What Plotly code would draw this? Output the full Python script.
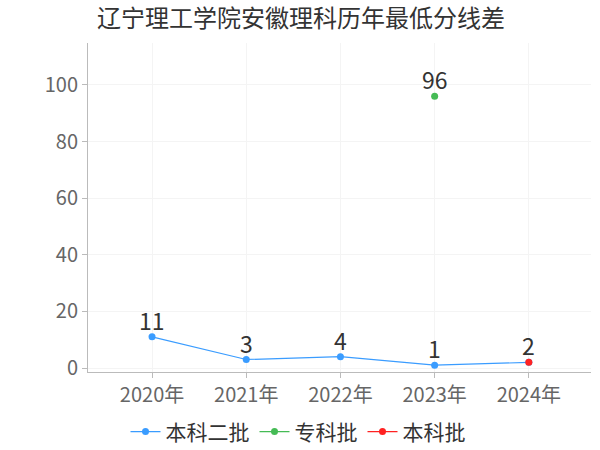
import plotly.graph_objects as go

years = ["2020年", "2021年", "2022年", "2023年", "2024年"]
benke2 = [11, 3, 4, 1, 2]
zhuanke = [None, None, None, 96, None]
benke = [None, None, None, None, 2]
title = "辽宁理工学院安徽理科历年最低分线差"

FONT = "Noto Sans CJK SC, Noto Sans, sans-serif"

series = [("本科二批", benke2, "#3a9cff"),
          ("专科批", zhuanke, "#45bb55"),
          ("本科批", benke, "#ff2222")]

fig = go.Figure()
for name, vals, color in series:
    fig.add_trace(go.Scatter(
        x=years, y=vals, name=name, mode="lines+markers",
        line=dict(color=color, width=1.2),
        marker=dict(color=color, size=7),
        connectgaps=False,
    ))

# value labels (one per category/value, skip duplicates at same spot)
seen = set()
for name, vals, color in reversed(series):
    for x, v in zip(years, vals):
        if v is None or (x, v) in seen:
            continue
        seen.add((x, v))
        fig.add_annotation(x=x, y=v, text=str(v), showarrow=False,
                           yshift=17, font=dict(size=23, color="#333333", family=FONT))

fig.update_layout(
    width=600, height=450,
    margin=dict(l=88, r=9, t=43, b=78, autoexpand=False),
    paper_bgcolor="white", plot_bgcolor="white",
    font=dict(family=FONT, color="#666666"),
    title=dict(text=title, x=97 / 600, xanchor="left", y=1 - 19 / 450, yanchor="middle",
               font=dict(size=24, color="#333333", family=FONT)),
    legend=dict(orientation="h", x=0.4175, xanchor="center", y=-0.182, yanchor="middle",
                font=dict(size=21, color="#333333", family=FONT),
                itemwidth=30, tracegroupgap=0),
    showlegend=True,
)
fig.update_xaxes(
    type="category", range=[-0.68, 4.66], automargin=False,
    showline=True, linecolor="#bbbbbb", linewidth=1,
    showgrid=True, gridcolor="#f4f4f4",
    ticks="outside", ticklen=5, tickcolor="#bbbbbb",
    tickfont=dict(size=20, color="#666666", family=FONT),
)
fig.update_yaxes(
    range=[-1.41, 114.8], tickvals=[0, 20, 40, 60, 80, 100], automargin=False,
    showline=True, linecolor="#bbbbbb", linewidth=1,
    showgrid=True, gridcolor="#f4f4f4", zeroline=False,
    ticks="outside", ticklen=5, tickcolor="#bbbbbb",
    tickfont=dict(size=20, color="#666666", family=FONT),
)
fig.write_html("out.html", config={"displayModeBar": False},
               post_script="document.body.style.margin='0';document.body.style.overflow='hidden';")
